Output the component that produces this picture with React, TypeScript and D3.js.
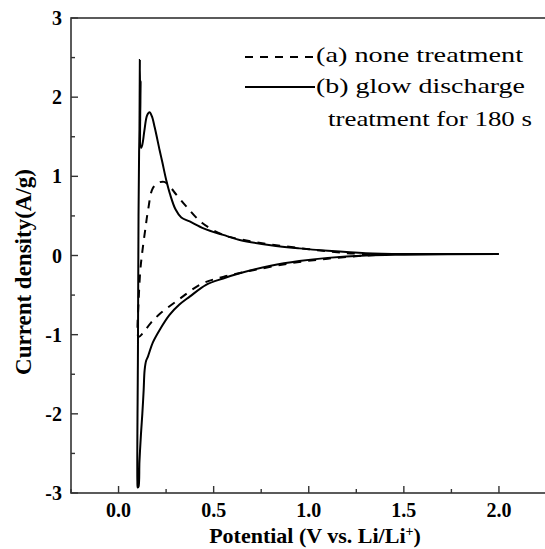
import React from "react";
import * as d3 from "d3";

const W = 545;
const H = 549;

// x ticks (V) and y ticks (A/g)
const xTicks = [0, 0.5, 1.0, 1.5, 2.0];
const xMinorTicks = [-0.25, 0.25, 0.75, 1.25, 1.75, 2.25];
const yTicks = [-3, -2, -1, 0, 1, 2, 3];
const yMinorTicks = [-2.5, -1.5, -0.5, 0.5, 1.5, 2.5];

// (b) glow discharge treatment for 180 s — solid, [potential, current]
const solidV = [
  2.0, 1.5, 1.3, 1.1, 0.95, 0.8, 0.637, 0.55, 0.45, 0.374, 0.33, 0.3, 0.27, 0.251, 0.23, 0.216, 0.19, 0.175,
  0.163, 0.15, 0.136, 0.125, 0.118, 0.116, 0.114, 0.112, 0.11, 0.108, 0.105, 0.102, 0.099, 0.101, 0.105,
  0.11, 0.118, 0.125, 0.132, 0.137, 0.145, 0.154, 0.18, 0.216, 0.268, 0.32, 0.374, 0.46, 0.55, 0.637, 0.8,
  0.95, 1.1, 1.3, 1.5, 2.0,
];
const solidI = [
  0.02, 0.02, 0.03, 0.06, 0.09, 0.13, 0.196, 0.26, 0.34, 0.43, 0.48, 0.58, 0.78, 0.95, 1.18, 1.33, 1.62, 1.76,
  1.81, 1.77, 1.58, 1.4, 1.36, 2.2, 1.7, 2.47, 1.6, 1.3, 0.5, -1.2, -2.85, -2.93, -2.92,
  -2.6, -2.25, -2.0, -1.7, -1.45, -1.33, -1.28, -1.1, -0.94, -0.75, -0.62, -0.52, -0.37, -0.29, -0.225, -0.13,
  -0.07, -0.03, 0.0, 0.01, 0.02,
];

// (a) none treatment — dashed, [potential, current]
const dashV = [
  1.4, 1.2, 1.0, 0.8, 0.65, 0.55, 0.44, 0.356, 0.3, 0.277, 0.24, 0.21, 0.18, 0.155, 0.14, 0.125, 0.114, 0.105,
  0.1, 0.105, 0.128, 0.17, 0.216, 0.32, 0.435, 0.55, 0.7, 0.9, 1.1, 1.3, 1.4,
];
const dashI = [
  0.01, 0.03, 0.08, 0.14, 0.2, 0.26, 0.41, 0.62, 0.78, 0.85, 0.93, 0.92, 0.85, 0.57, 0.32, 0.05, -0.2, -0.6,
  -0.95, -1.03, -0.98, -0.85, -0.74, -0.55, -0.36, -0.27, -0.19, -0.1, -0.04, 0.0, 0.01,
];

const legendLabels = ["(a) none treatment", "(b) glow discharge", "treatment for 180 s"];

const FONT = "'Liberation Serif', 'Times New Roman', Times, serif";

export default function App() {
  const x = d3.scaleLinear().domain([-0.25, 2.25]).range([71, 546.5]);
  const y = d3.scaleLinear().domain([-3, 3]).range([493, 18]);

  const line = d3
    .line<[number, number]>()
    .x((d) => x(d[0]))
    .y((d) => y(d[1]))
    .curve(d3.curveCatmullRom.alpha(0.5));

  const solidPts = solidV.map((v, i) => [v, solidI[i]] as [number, number]);
  const dashPts = dashV.map((v, i) => [v, dashI[i]] as [number, number]);

  const axisColor = "#333";
  const x0 = x(-0.25);
  const x1 = x(2.25);
  const yTop = y(3);
  const yBot = y(-3);

  return (
    <svg
      width={W}
      height={H}
      style={{ position: "absolute", left: 0, top: 0, display: "block", background: "#fff" }}
    >
      {/* curves */}
      <path d={line(dashPts) || ""} fill="none" stroke="#000" strokeWidth={2} strokeDasharray="8,7" />
      <path d={line(solidPts) || ""} fill="none" stroke="#000" strokeWidth={2} />

      {/* frame */}
      <rect x={x0} y={yTop} width={x1 - x0} height={yBot - yTop} fill="none" stroke={axisColor} strokeWidth={1.6} />

      {/* x ticks */}
      {xTicks.map((t) => (
        <g key={"xt" + t}>
          <line x1={x(t)} x2={x(t)} y1={yBot} y2={yBot - 7} stroke={axisColor} strokeWidth={1.4} />
          <text
            x={x(t)}
            y={517}
            textAnchor="middle"
            fontFamily={FONT}
            fontWeight="bold"
            fontSize={20}
          >
            {t.toFixed(1)}
          </text>
        </g>
      ))}
      {xMinorTicks.map((t) => (
        <line key={"xm" + t} x1={x(t)} x2={x(t)} y1={yBot} y2={yBot - 4} stroke={axisColor} strokeWidth={1.4} />
      ))}

      {/* y ticks */}
      {yTicks.map((t) => (
        <g key={"yt" + t}>
          <line x1={x0} x2={x0 + 7} y1={y(t)} y2={y(t)} stroke={axisColor} strokeWidth={1.4} />
          <text
            x={62}
            y={y(t)}
            dy="0.35em"
            textAnchor="end"
            fontFamily={FONT}
            fontWeight="bold"
            fontSize={20}
          >
            {String(t)}
          </text>
        </g>
      ))}
      {yMinorTicks.map((t) => (
        <line key={"ym" + t} x1={x0} x2={x0 + 4} y1={y(t)} y2={y(t)} stroke={axisColor} strokeWidth={1.4} />
      ))}

      {/* axis titles */}
      <text x={315} y={543} textAnchor="middle" fontFamily={FONT} fontWeight="bold" fontSize={22}>
        Potential (V vs. Li/Li
        <tspan dy={-7} fontSize={14}>
          +
        </tspan>
        <tspan dy={7}>)</tspan>
      </text>
      <text
        transform={`translate(31, ${272}) rotate(-90)`}
        textAnchor="middle"
        fontFamily={FONT}
        fontWeight="bold"
        fontSize={23}
      >
        Current density(A/g)
      </text>

      {/* legend */}
      <line x1={245} x2={315} y1={57} y2={57} stroke="#000" strokeWidth={2} strokeDasharray="8,7" />
      <text x={316} y={62} fontFamily={FONT} fontSize={21} textLength={207} lengthAdjust="spacingAndGlyphs">
        {legendLabels[0]}
      </text>
      <line x1={245} x2={315} y1={87} y2={87} stroke="#000" strokeWidth={2} />
      <text x={316} y={93} fontFamily={FONT} fontSize={21} textLength={209} lengthAdjust="spacingAndGlyphs">
        {legendLabels[1]}
      </text>
      <text x={328} y={126} fontFamily={FONT} fontSize={21} textLength={204} lengthAdjust="spacingAndGlyphs">
        {legendLabels[2]}
      </text>
    </svg>
  );
}
